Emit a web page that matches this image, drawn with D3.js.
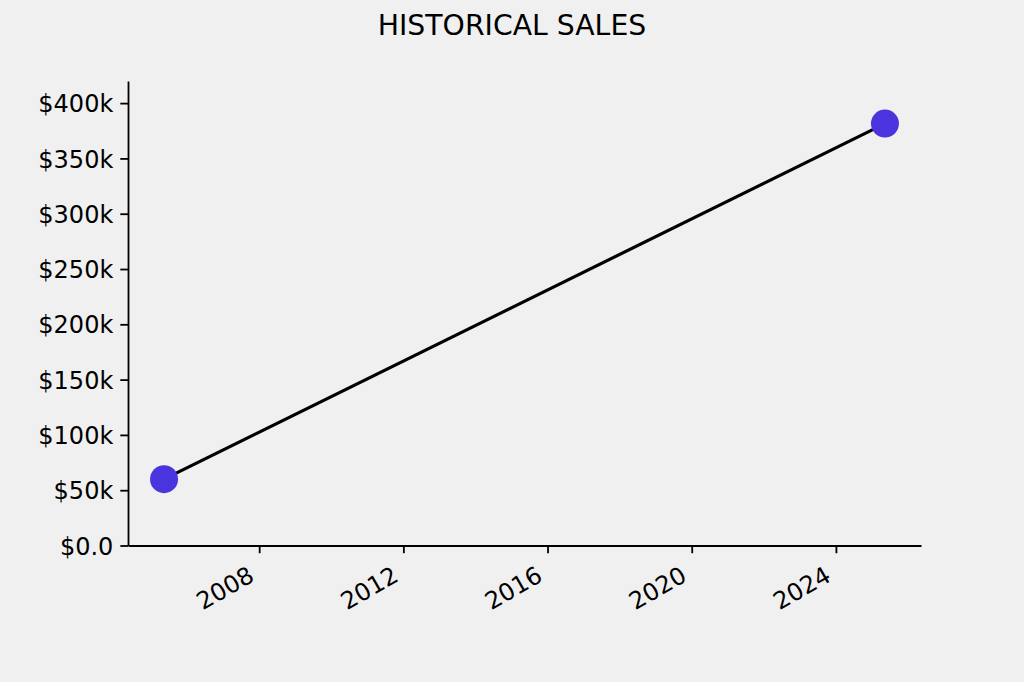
<!DOCTYPE html>
<html>
<head>
<meta charset="utf-8">
<script src="https://cdn.jsdelivr.net/npm/d3@7"></script>
<style>
  html, body { margin: 0; padding: 0; background: #f0f0f0; }
  svg { display: block; font-family: "DejaVu Sans", sans-serif; }
</style>
</head>
<body>
<svg id="chart" width="1024" height="682"></svg>
<script>
// ---- data ----
const dates = ["2005-05-12", "2025-05-12"];
const sales = [60000, 381500];
const yTickValues = [0, 50000, 100000, 150000, 200000, 250000, 300000, 350000, 400000];
const yTickLabels = ["$0.0", "$50k", "$100k", "$150k", "$200k", "$250k", "$300k", "$350k", "$400k"];
const xTickYears = [2008, 2012, 2016, 2020, 2024];
const chartTitle = "HISTORICAL SALES";

// ---- layout ----
const svg = d3.select("#chart");
const W = 1024, H = 682;
const mLeft = 128, mRight = 921, mTop = 81, mBottom = 545.5;

svg.append("rect").attr("width", W).attr("height", H).attr("fill", "#f0f0f0");

const parse = d3.timeParse("%Y-%m-%d");
const pts = dates.map((d, i) => ({ date: parse(d), value: sales[i] }));

const t0 = +pts[0].date, t1 = +pts[pts.length - 1].date;
const pad = (t1 - t0) * 0.05;
const x = d3.scaleTime().domain([new Date(t0 - pad), new Date(t1 + pad)]).range([mLeft, mRight]);
const y = d3.scaleLinear().domain([0, 420000]).range([mBottom, mTop]);

// y axis
const yAxis = d3.axisLeft(y)
  .tickValues(yTickValues)
  .tickFormat((d, i) => yTickLabels[i])
  .tickSizeInner(7.7).tickSizeOuter(0).tickPadding(7);
const gy = svg.append("g").attr("transform", `translate(${mLeft},0)`).call(yAxis);
gy.select(".domain").attr("stroke", "#000").attr("stroke-width", 1.8);
gy.selectAll(".tick line").attr("stroke", "#000").attr("stroke-width", 1.8);
gy.selectAll(".tick text").attr("font-size", 24).attr("fill", "#000")
  .attr("font-family", "DejaVu Sans").attr("dy", "0.36em");

// x axis
const xTicks = xTickYears.map(yr => new Date(yr, 0, 1));
const xAxis = d3.axisBottom(x).tickValues(xTicks).tickFormat(d3.timeFormat("%Y"))
  .tickSizeInner(7.7).tickSizeOuter(0);
const gx = svg.append("g").attr("transform", `translate(0,${mBottom})`).call(xAxis);
gx.select(".domain").attr("stroke", "#000").attr("stroke-width", 1.8);
gx.selectAll(".tick line").attr("stroke", "#000").attr("stroke-width", 1.8);
gx.selectAll(".tick text")
  .attr("font-size", 24).attr("fill", "#000").attr("font-family", "DejaVu Sans")
  .attr("text-anchor", "end").attr("y", 0).attr("dy", 0)
  .attr("transform", "translate(-4,34.5) rotate(-30)");

// line
const line = d3.line().x(d => x(d.date)).y(d => y(d.value));
svg.append("path").datum(pts).attr("d", line)
  .attr("fill", "none").attr("stroke", "#000").attr("stroke-width", 3.2);

// markers
svg.selectAll("circle.pt").data(pts).join("circle").attr("class", "pt")
  .attr("cx", d => x(d.date)).attr("cy", d => y(d.value)).attr("r", 14)
  .attr("fill", "#4a34de");

// title
svg.append("text").attr("x", 512).attr("y", 34.5).attr("text-anchor", "middle")
  .attr("font-size", 28.3).attr("fill", "#000").attr("font-family", "DejaVu Sans")
  .text(chartTitle);
</script>
</body>
</html>
